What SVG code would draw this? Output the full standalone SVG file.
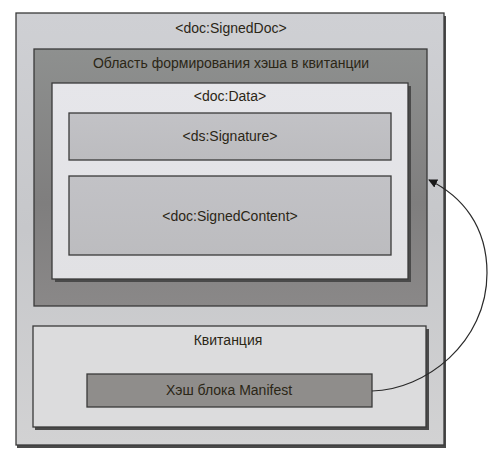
<svg xmlns="http://www.w3.org/2000/svg" width="499" height="459" viewBox="0 0 499 459">
<defs>
<style>
.box{stroke:#3a3a3a;stroke-width:1.3}
.sh{fill:#4a4a4a}
text{font-family:"Liberation Sans",Arial,sans-serif;font-size:14px;fill:#2b2616;text-anchor:middle}
.conn{fill:none;stroke:#2a2a2a;stroke-width:1.2}
</style>
<linearGradient id="gOuter" x1="0" y1="0" x2="0" y2="1">
<stop offset="0" stop-color="#cfd0d4"/><stop offset="0.5" stop-color="#c6c7ca"/><stop offset="1" stop-color="#d2d2d3"/>
</linearGradient>
<linearGradient id="gArea" x1="0" y1="0" x2="0" y2="1">
<stop offset="0" stop-color="#8e908f"/><stop offset="0.6" stop-color="#7f7e7e"/><stop offset="1" stop-color="#8a8888"/>
</linearGradient>
<linearGradient id="gData" x1="0" y1="0" x2="0" y2="1">
<stop offset="0" stop-color="#e6e6ea"/><stop offset="1" stop-color="#e1e1e4"/>
</linearGradient>
<linearGradient id="gInner" x1="0" y1="0" x2="0" y2="1">
<stop offset="0" stop-color="#c2c2c6"/><stop offset="1" stop-color="#bcbcbf"/>
</linearGradient>
<marker id="arr" viewBox="0 0 10 10" refX="9" refY="5" markerWidth="9" markerHeight="9" orient="auto" markerUnits="userSpaceOnUse">
<path d="M0,0 L10,5 L0,10 z" fill="#1a1a1a"/>
</marker>
</defs>
<rect width="499" height="459" fill="#ffffff"/>
<g id="signedDoc">
<rect class="sh" x="17" y="16" width="429" height="432"/>
<rect class="box" x="16" y="13" width="428" height="432" fill="url(#gOuter)"/>
<text x="231" y="33">&lt;doc:SignedDoc&gt;</text>
</g>
<g id="hashArea">
<rect class="box" x="34" y="49" width="393" height="257" fill="url(#gArea)"/>
<text x="231" y="68">Область формирования хэша в квитанции</text>
</g>
<g id="data">
<rect class="sh" x="55" y="86" width="356" height="196"/>
<rect class="box" x="52" y="83" width="356" height="196" fill="url(#gData)"/>
<text x="230" y="101">&lt;doc:Data&gt;</text>
</g>
<g id="signature">
<rect class="box" x="69" y="113" width="322" height="47" fill="url(#gInner)"/>
<text x="230" y="141">&lt;ds:Signature&gt;</text>
</g>
<g id="signedContent">
<rect class="box" x="69" y="176" width="322" height="79" fill="url(#gInner)"/>
<text x="230" y="221">&lt;doc:SignedContent&gt;</text>
</g>
<g id="receipt">
<rect class="sh" x="35" y="329" width="394" height="101"/>
<rect class="box" x="33" y="326" width="393" height="101" fill="#dcdcdd"/>
<text x="228" y="345">Квитанция</text>
</g>
<g id="manifestHash">
<rect class="box" x="87" y="374" width="285" height="33" fill="#8f8d8b"/>
<text x="229" y="395">Хэш блока Manifest</text>
</g>
<g id="connectors">
<path class="conn" d="M372,391 C425,390 487,343 487,273 C487,226 462,196 429,180" marker-end="url(#arr)"/>
</g>
</svg>
